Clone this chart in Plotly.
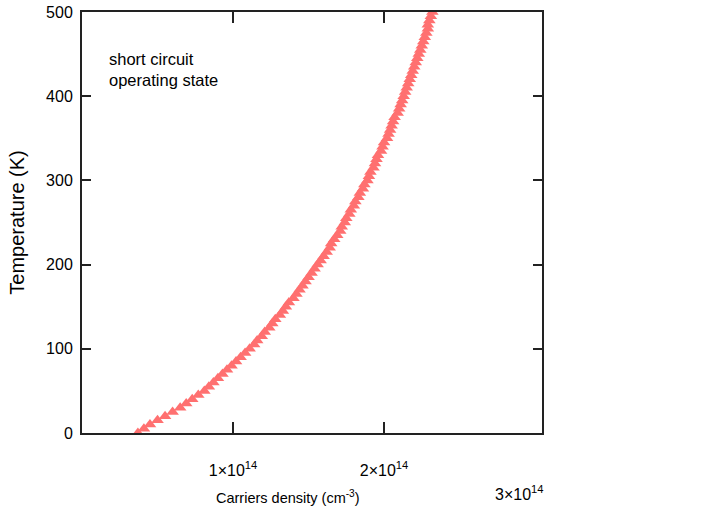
import plotly.graph_objects as go

temperature_K = list(range(0, 505, 5))
density_e14 = [
    0.37, 0.41, 0.45, 0.50, 0.55, 0.60, 0.65, 0.69, 0.73, 0.77,
    0.81, 0.84, 0.87, 0.90, 0.93, 0.96, 0.99, 1.02, 1.05, 1.08,
    1.11, 1.14, 1.16, 1.19, 1.21, 1.24, 1.26, 1.28, 1.31, 1.33,
    1.35, 1.37, 1.40, 1.42, 1.44, 1.46, 1.48, 1.50, 1.52, 1.54,
    1.56, 1.58, 1.60, 1.62, 1.64, 1.65, 1.67, 1.69, 1.71, 1.72,
    1.74, 1.75, 1.77, 1.78, 1.80, 1.81, 1.83, 1.84, 1.86, 1.87,
    1.89, 1.90, 1.91, 1.93, 1.94, 1.95, 1.96, 1.98, 1.99, 2.00,
    2.02, 2.03, 2.04, 2.05, 2.06, 2.07, 2.09, 2.10, 2.11, 2.12,
    2.13, 2.14, 2.15, 2.16, 2.17, 2.18, 2.19, 2.20, 2.21, 2.22,
    2.23, 2.24, 2.25, 2.26, 2.27, 2.28, 2.29, 2.29, 2.30, 2.31,
    2.32,
]
density = [v * 1e14 for v in density_e14]

x_tickvals = [1e14, 2e14]
x_ticktext = ["1×10<sup>14</sup>", "2×10<sup>14</sup>"]
extra_x_tick = (3e14, "3×10<sup>14</sup>")
y_tickvals = [0, 100, 200, 300, 400, 500]
x_title = "Carriers density (cm<sup>-3</sup>)"
y_title = "Temperature (K)"
note_text = "short circuit<br>operating state"

FONT = "Liberation Sans, Arial, sans-serif"
AXIS_COL = "#222222"

fig = go.Figure()
fig.add_trace(go.Scatter(
    x=density, y=temperature_K, mode="markers",
    marker=dict(symbol="triangle-up", size=11, color="#ff7070", line=dict(width=0)),
    cliponaxis=True, showlegend=False,
))

fig.update_layout(
    width=722, height=516,
    margin=dict(l=82, r=180, t=12, b=83),
    paper_bgcolor="white", plot_bgcolor="white",
    font=dict(family=FONT, size=16, color="black"),
    xaxis=dict(
        range=[0, 3.046e14], tickvals=x_tickvals, ticktext=x_ticktext,
        ticks="inside", ticklen=11, tickwidth=2, tickcolor=AXIS_COL,
        showline=True, linecolor=AXIS_COL, linewidth=2, mirror="ticks",
        showgrid=False, zeroline=False, ticklabelstandoff=22, automargin=False,
        tickfont=dict(size=16),
    ),
    yaxis=dict(
        range=[0, 500], tickvals=y_tickvals,
        ticks="inside", ticklen=9, tickwidth=2, tickcolor=AXIS_COL,
        showline=True, linecolor=AXIS_COL, linewidth=2, mirror="ticks",
        showgrid=False, zeroline=False, ticklabelstandoff=4, automargin=False,
        ticklabeloverflow="allow",
        tickfont=dict(size=16),
        title=dict(text=y_title, standoff=16, font=dict(size=20)),
    ),
)

fig.add_annotation(
    x=0.447, y=-0.152, xref="paper", yref="paper", text=x_title,
    showarrow=False, xanchor="center", yanchor="middle", font=dict(size=14.5),
)
fig.add_annotation(
    x=extra_x_tick[0], y=-0.1425, xref="x", yref="paper", text=extra_x_tick[1],
    showarrow=False, xshift=-16, yanchor="middle", font=dict(size=16),
)
fig.add_annotation(
    x=0.055, y=0.863, xref="paper", yref="paper", xanchor="left", yanchor="middle",
    text=note_text, align="left", showarrow=False,
    font=dict(size=16.5),
)

fig.write_html(
    "out.html",
    config={"displayModeBar": False},
    post_script="document.body.style.margin='0';document.body.style.overflow='hidden';",
)
